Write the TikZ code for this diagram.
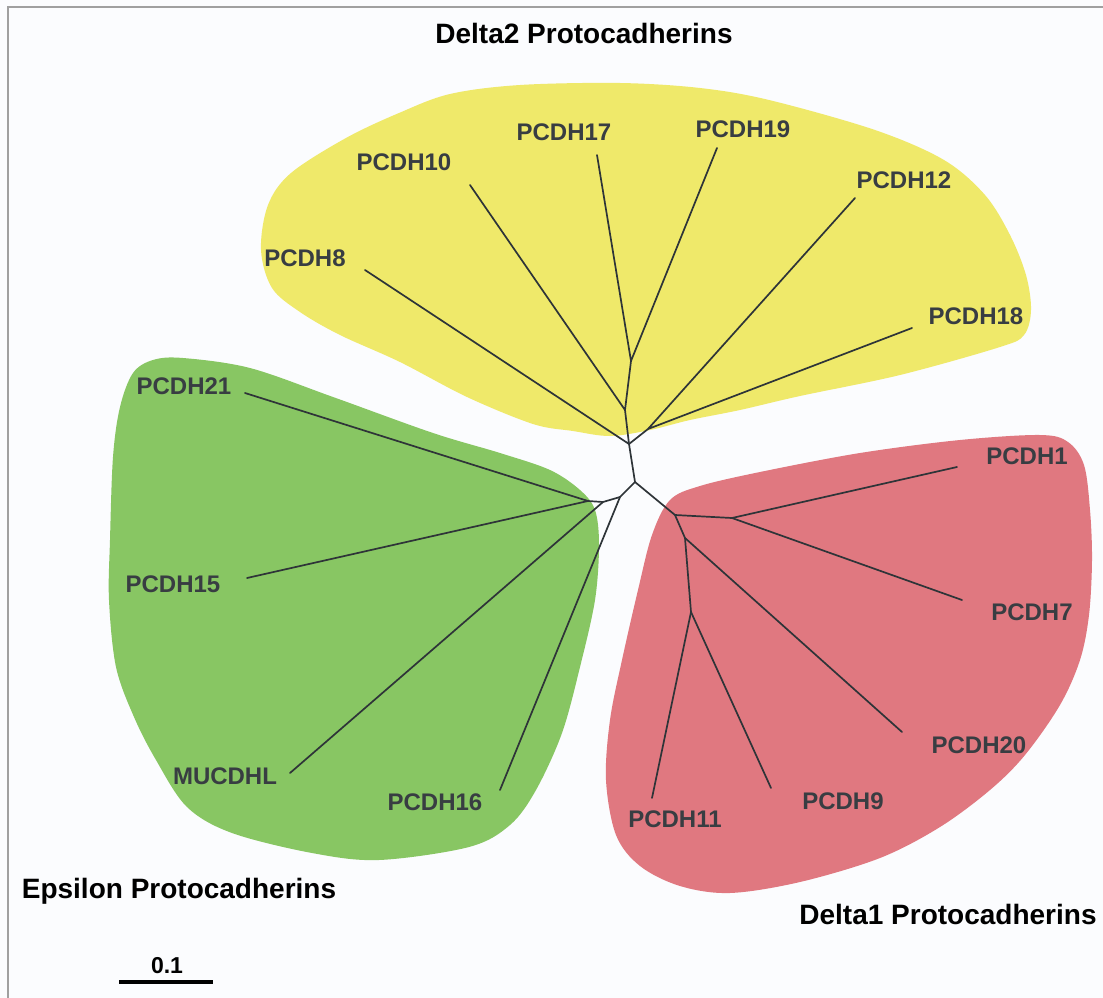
\documentclass[tikz,border=0pt]{standalone}
\usepackage{fontspec}
\setmainfont{Liberation Sans}
\definecolor{bgc}{HTML}{FBFCFE}
\definecolor{framec}{HTML}{A0A0A0}
\definecolor{yel}{HTML}{EFE96A}
\definecolor{grn}{HTML}{88C663}
\definecolor{redc}{HTML}{E07880}
\definecolor{linec}{HTML}{2E3438}
\definecolor{labc}{HTML}{383D42}
\tikzset{
  leaf/.style={text=labc,font=\fontsize{24}{24}\selectfont\bfseries,inner sep=0pt},
  grouptitle/.style={text=black,font=\fontsize{28}{28}\selectfont\bfseries,inner sep=0pt},
  branch/.style={draw=linec,line width=1.7pt,line cap=round,line join=round},
  blob/.style={smooth cycle,tension=0.55}
}
\begin{document}
\begin{tikzpicture}[x=1pt,y=-1pt]
\useasboundingbox (0,0) rectangle (1103,998);
\fill[bgc] (0,0) rectangle (1103,998);
\draw[framec,line width=1.4pt] (8,998) -- (8,7) -- (1103,7);

% group areas
\fill[yel] plot[blob] coordinates {(261,250) (268,205) (291,173) (346,138) (399,113) (450,94) (520,85) (620,83) (700,88) (769,100) (875,130) (944,160) (985,195) (1010,235) (1026,275) (1031,310) (1024,335) (1000,347) (900,375) (800,396) (740,410) (690,420) (650,430) (610,436) (573,431) (533,424) (467,397) (400,362) (340,335) (300,312) (272,288)};
\fill[grn] plot[blob] coordinates {(153,360) (183,358) (250,368) (333,397) (433,433) (500,453) (550,470) (580,490) (595,510) (599,545) (595,600) (580,667) (562,733) (536,790) (510,825) (469,847) (379,860) (312,853) (232,833) (187,807) (156,760) (134,717) (116,667) (109,600) (110,540) (113,457) (120,407) (133,373)};
\fill[redc] plot[blob] coordinates {(670,500) (700,486) (760,472) (860,453) (960,440) (1040,435) (1068,442) (1084,465) (1090,510) (1092,560) (1089,615) (1080,660) (1060,705) (1025,755) (990,790) (940,827) (880,858) (800,882) (730,893) (680,886) (640,866) (616,835) (606,780) (610,720) (622,660) (638,590) (652,535)};

% internal nodes
\coordinate (R) at (635,482);
\coordinate (D2r) at (629,444);
\coordinate (D2b) at (625,410);
\coordinate (D2a) at (631,361);
\coordinate (D2c) at (648,429);
\coordinate (E3) at (620,497);
\coordinate (E2) at (603,502);
\coordinate (E1) at (588,501);
\coordinate (D1a) at (675,515);
\coordinate (D1b) at (732,518);
\coordinate (D1c) at (685,538);
\coordinate (D1d) at (691,612);

% leaf tips
\coordinate (t17) at (597,155);
\coordinate (t19) at (717,148);
\coordinate (t10) at (470,185);
\coordinate (t12) at (855,198);
\coordinate (t8) at (365,270);
\coordinate (t18) at (912,328);
\coordinate (t21) at (245,393);
\coordinate (t15) at (247,578);
\coordinate (tMU) at (290,773);
\coordinate (t16) at (500,790);
\coordinate (t1) at (957,467);
\coordinate (t7) at (962,600);
\coordinate (t20) at (902,732);
\coordinate (t9) at (771,788);
\coordinate (t11) at (652,798);

% labels
\node[leaf] (l17) at (564,132) {PCDH17};
\node[leaf] (l19) at (743,129) {PCDH19};
\node[leaf] (l10) at (404,162) {PCDH10};
\node[leaf] (l12) at (904,180) {PCDH12};
\node[leaf] (l8) at (305,258) {PCDH8};
\node[leaf] (l18) at (976,316) {PCDH18};
\node[leaf] (l21) at (184,386) {PCDH21};
\node[leaf] (l15) at (173,584) {PCDH15};
\node[leaf] (lMU) at (225,776) {MUCDHL};
\node[leaf] (l16) at (435,802) {PCDH16};
\node[leaf] (l1) at (1027,456) {PCDH1};
\node[leaf] (l7) at (1032,612) {PCDH7};
\node[leaf] (l20) at (979,745) {PCDH20};
\node[leaf] (l9) at (843,801) {PCDH9};
\node[leaf] (l11) at (675,819) {PCDH11};

\node[grouptitle] (tD2) at (584,33) {Delta2 Protocadherins};
\node[grouptitle] (tEp) at (179,891) {Epsilon Protocadherins};
\node[grouptitle] (tD1) at (948,914) {Delta1 Protocadherins};

% tree
\path[branch] (t17) -- (D2a) -- (t19);
\path[branch] (D2a) -- (D2b) -- (t10);
\path[branch] (D2b) -- (D2r) -- (t8);
\path[branch] (t12) -- (D2c) -- (t18);
\path[branch] (D2c) -- (D2r) -- (R);
\path[branch] (R) -- (E3) -- (t16);
\path[branch] (E3) -- (E2) -- (tMU);
\path[branch] (E2) -- (E1) -- (t21);
\path[branch] (E1) -- (t15);
\path[branch] (R) -- (D1a) -- (D1b) -- (t1);
\path[branch] (D1b) -- (t7);
\path[branch] (D1a) -- (D1c) -- (t20);
\path[branch] (D1c) -- (D1d) -- (t11);
\path[branch] (D1d) -- (t9);

% scale bar
\coordinate (sbL) at (119,982);
\coordinate (sbR) at (213,982);
\draw[black,line width=4.4pt] (sbL) -- (sbR);
\node[text=black,font=\fontsize{23}{23}\selectfont\bfseries,inner sep=0pt] (sblab) at (167,966) {0.1};
\end{tikzpicture}
\end{document}
